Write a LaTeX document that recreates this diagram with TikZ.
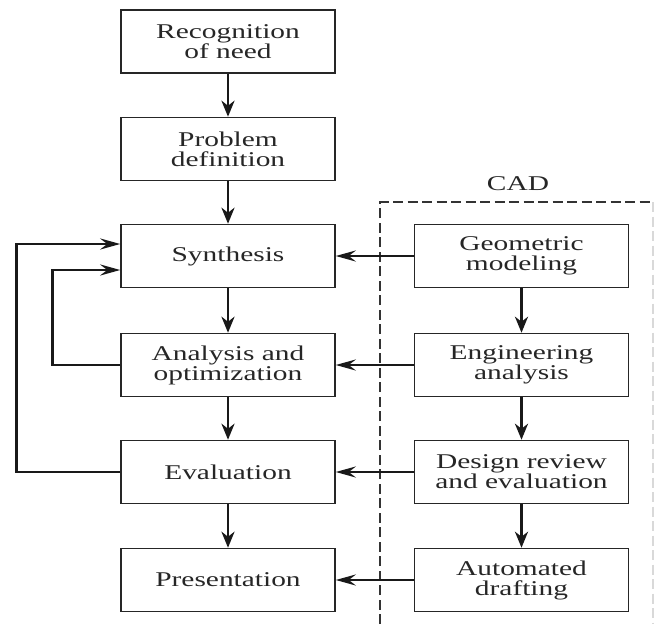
\documentclass[tikz,border=0pt]{standalone}
\usepackage{fontspec}
\setmainfont{Liberation Serif}[FakeStretch=1.4]
\usetikzlibrary{arrows.meta}

\begin{document}
\begin{tikzpicture}[x=1pt,y=-1pt,
	box_node/.style={draw=black!85,line width=1.5pt,minimum width=214pt,minimum height=63pt,align=center,inner sep=0pt,font=\fontsize{21}{20}\selectfont,text=black!85},
	flow_arrow/.style={line width=2.8pt,draw=black!90,-{Stealth[length=16pt,width=13pt,inset=5pt]}},
	side_arrow/.style={line width=2.6pt,draw=black!90,-{Stealth[length=20pt,width=11pt,inset=7pt]}},
	cad_line/.style={line width=1.2pt,draw=black!80,dash pattern=on 10pt off 4.5pt}]
		
		\useasboundingbox (0,0) rectangle (656,624);
		
		\node[box_node] (need) at (228,41.5) {Recognition\\of need};
		\node[box_node] (definition) at (228,149) {Problem\\definition};
		\node[box_node] (synthesis) at (228,256) {Synthesis};
		\node[box_node] (analysis) at (228,365) {Analysis and\\optimization};
		\node[box_node] (evaluation) at (228,472) {Evaluation};
		\node[box_node] (presentation) at (228,580) {Presentation};
		
		\node[box_node] (modeling) at (521.5,256) {Geometric\\modeling};
		\node[box_node] (engineering) at (521.5,365) {Engineering\\analysis};
		\node[box_node] (review) at (521.5,472) {Design review\\and evaluation};
		\node[box_node] (drafting) at (521.5,580) {Automated\\drafting};
		
		\node[font=\fontsize{21}{20}\selectfont,text=black!85] (cad) at (518,184) {CAD};
		\draw[cad_line] (380,624) -- (380,202) -- (653,202);
		\draw[cad_line,draw=black!15] (653,202) -- (653,624);
		
		\draw[flow_arrow] (need) -- (definition);
		\draw[flow_arrow] (definition) -- (synthesis);
		\draw[flow_arrow] (synthesis) -- (analysis);
		\draw[flow_arrow] (analysis) -- (evaluation);
		\draw[flow_arrow] (evaluation) -- (presentation);
		\draw[flow_arrow] (modeling) -- (engineering);
		\draw[flow_arrow] (engineering) -- (review);
		\draw[flow_arrow] (review) -- (drafting);
		
		\draw[side_arrow] (modeling.west) -- (synthesis.east);
		\draw[side_arrow] (engineering.west) -- (analysis.east);
		\draw[side_arrow] (review.west) -- (evaluation.east);
		\draw[side_arrow] (drafting.west) -- (presentation.east);
		
		\draw[side_arrow,line width=2.8pt] (evaluation.west) -- ++(-104,0) |- ([yshift=12pt]synthesis.west);
		\draw[side_arrow,line width=2.8pt] (analysis.west) -- ++(-68,0) |- ([yshift=-14pt]synthesis.west);
		\end{tikzpicture}
\end{document}
